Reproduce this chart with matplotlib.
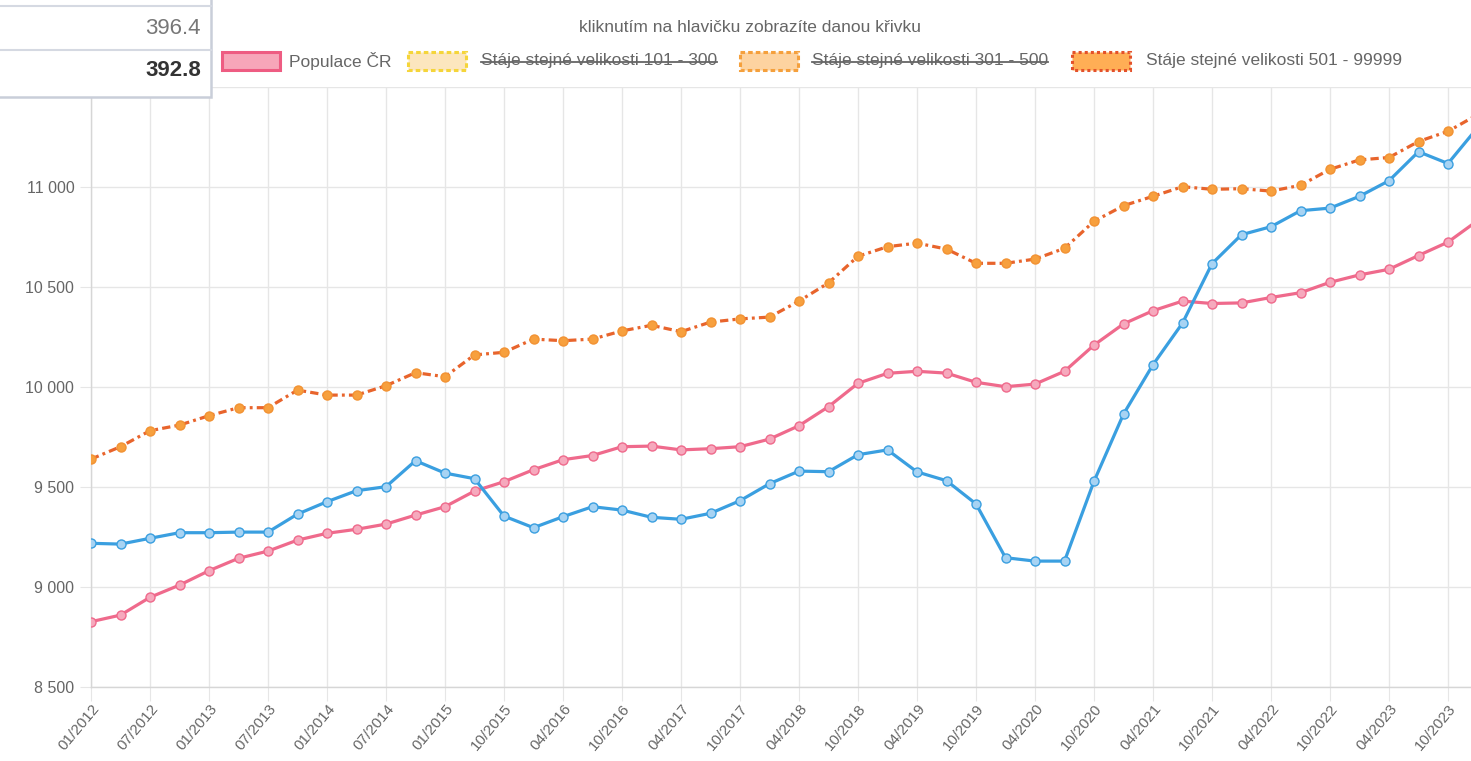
import matplotlib
matplotlib.use("Agg")
import matplotlib.pyplot as plt
from matplotlib.patches import Rectangle
from matplotlib.lines import Line2D

plt.rcParams["font.family"] = ["Liberation Sans", "DejaVu Sans"]

# quarterly categories (04/2015 missing in the source series)
quarters = [
    "01/2012", "04/2012", "07/2012", "10/2012", "01/2013", "04/2013", "07/2013", "10/2013",
    "01/2014", "04/2014", "07/2014", "10/2014", "01/2015", "07/2015", "10/2015", "01/2016",
    "04/2016", "07/2016", "10/2016", "01/2017", "04/2017", "07/2017", "10/2017", "01/2018",
    "04/2018", "07/2018", "10/2018", "01/2019", "04/2019", "07/2019", "10/2019", "01/2020",
    "04/2020", "07/2020", "10/2020", "01/2021", "04/2021", "07/2021", "10/2021", "01/2022",
    "04/2022", "07/2022", "10/2022", "01/2023", "04/2023", "07/2023", "10/2023", "01/2024",
]

populace = [
    8825, 8858, 8947, 9008, 9080, 9142, 9178, 9233, 9267, 9287, 9313, 9358,
    9400, 9478, 9525, 9585, 9635, 9656, 9700, 9703, 9684, 9690, 9700, 9738,
    9805, 9900, 10017, 10067, 10077, 10068, 10022, 10000, 10013, 10077, 10208, 10314,
    10380, 10428, 10416, 10419, 10446, 10470, 10522, 10559, 10587, 10656, 10723, 10830,
]

stat_blue = [
    9217, 9213, 9242, 9270, 9270, 9273, 9273, 9363, 9425, 9480, 9500, 9630,
    9568, 9540, 9353, 9295, 9350, 9400, 9383, 9347, 9337, 9367, 9430, 9515,
    9578, 9575, 9660, 9684, 9574, 9530, 9414, 9145, 9128, 9128, 9527, 9863,
    10110, 10318, 10615, 10760, 10800, 10880, 10893, 10952, 11030, 11175, 11116, 11295,
]

staje_501 = [
    9638, 9700, 9780, 9808, 9855, 9895, 9895, 9983, 9958, 9958, 10005, 10070,
    10050, 10159, 10172, 10238, 10230, 10238, 10279, 10307, 10275, 10323, 10339, 10348,
    10428, 10519, 10652, 10700, 10718, 10688, 10617, 10617, 10638, 10692, 10827, 10905,
    10952, 11000, 10987, 10990, 10978, 11007, 11087, 11134, 11146, 11226, 11277, 11360,
]

y_ticks = [8500, 9000, 9500, 10000, 10500, 11000, 11500]

legend_title = "kliknutím na hlavičku zobrazíte danou křivku"
legend_labels = [
    "Populace ČR",
    "Stáje stejné velikosti 101 - 300",
    "Stáje stejné velikosti 301 - 500",
    "Stáje stejné velikosti 501 - 99999",
]

W, H = 1471, 761
fig = plt.figure(figsize=(W / 100, H / 100), dpi=100)
fig.patch.set_facecolor("white")

grid_c = "#E6E6E6"
text_c = "#666666"

ax = fig.add_axes([91 / W, 1 - 686.7 / H, 1 - 91 / W, 600 / H])
x = list(range(len(quarters)))

ax.plot(x, populace, color="#EF6A8C", lw=2.3, marker="o", ms=6.5,
        mfc="#F6A9BD", mec="#EF6A8C", mew=1.0, zorder=3)
ax.plot(x, staje_501, color="#E8642C", lw=2.3, ls=(0, (2.6, 1.3, 0.9, 1.3)),
        marker="o", ms=6.5, mfc="#F7A03E", mec="#F29233", mew=1.0, zorder=4)
ax.plot(x, stat_blue, color="#3A9FE0", lw=2.3, marker="o", ms=6.5,
        mfc="#A7D3F3", mec="#3A9FE0", mew=1.0, zorder=5)

ax.set_xlim(0, 47 - 6.5 / 29.5)
ax.set_ylim(8500, 11500)
ax.set_xticks(x[::2])
ax.set_xticklabels(quarters[::2], rotation=50, ha="right", va="top",
                   rotation_mode="anchor", fontsize=11, color=text_c)
ax.set_yticks(y_ticks)
ax.set_yticklabels([f"{v:,}".replace(",", " ") for v in y_ticks],
                   fontsize=11.5, color=text_c)
ax.tick_params(axis="x", length=10, color=grid_c, pad=1)
ax.tick_params(axis="y", length=8, color=grid_c, pad=4)
ax.grid(True, color=grid_c, lw=1)
ax.set_axisbelow(True)
for side in ["top", "right"]:
    ax.spines[side].set_visible(False)
for side in ["left", "bottom"]:
    ax.spines[side].set_color("#D6D6D6")
    ax.spines[side].set_linewidth(1)

# overlay in pixel coordinates for the legend and the table fragment
ov = fig.add_axes([0, 0, 1, 1], zorder=10)
ov.set_xlim(0, W)
ov.set_ylim(H, 0)
ov.axis("off")
ov.patch.set_alpha(0)

ov.text(750, 27, legend_title, fontsize=12.5, color=text_c, ha="center", va="center")

boxes = [
    (222, "#F7A6B9", "#EE5C82", "-"),
    (408, "#FCE6BE", "#F5D53A", (0, (1.5, 1))),
    (740, "#FDD3A0", "#F5A03C", (0, (1.5, 1))),
    (1072, "#FFAE55", "#E4512A", (0, (1, 1))),
]
text_x = [289, 481, 812, 1146]
fig.canvas.draw()
renderer = fig.canvas.get_renderer()
for i, (bx, fc, ec, ls) in enumerate(boxes):
    ov.add_patch(Rectangle((bx, 52), 58, 18, facecolor=fc, edgecolor=ec,
                           lw=2.2, ls=ls))
    t = ov.text(text_x[i], 61, legend_labels[i], fontsize=12.5, color=text_c,
                ha="left", va="center")
    if i in (1, 2):
        bb = t.get_window_extent(renderer=renderer)
        inv = ov.transData.inverted()
        (x0, _), (x1, _) = inv.transform([(bb.x0, 0), (bb.x1, 0)])
        ov.add_line(Line2D([x0, x1], [62, 62], color=text_c, lw=1.3))

# table fragment in the upper left corner
ov.add_patch(Rectangle((-5, -5), 216, 102, facecolor="white",
                       edgecolor="#C9CED9", lw=1.8))
ov.add_line(Line2D([0, 211], [6, 6], color="#D5D9E2", lw=1.5))
ov.add_line(Line2D([0, 211], [50, 50], color="#D5D9E2", lw=1.5))
ov.text(201, 29, "396.4", fontsize=16, color="#777777", ha="right", va="center",
        family=["Liberation Sans Narrow", "Liberation Sans"])
ov.text(201, 71, "392.8", fontsize=16, color="#333333", ha="right", va="center",
        weight="bold", family=["Liberation Sans Narrow", "Liberation Sans"])

fig.savefig("out.png", dpi=100)
